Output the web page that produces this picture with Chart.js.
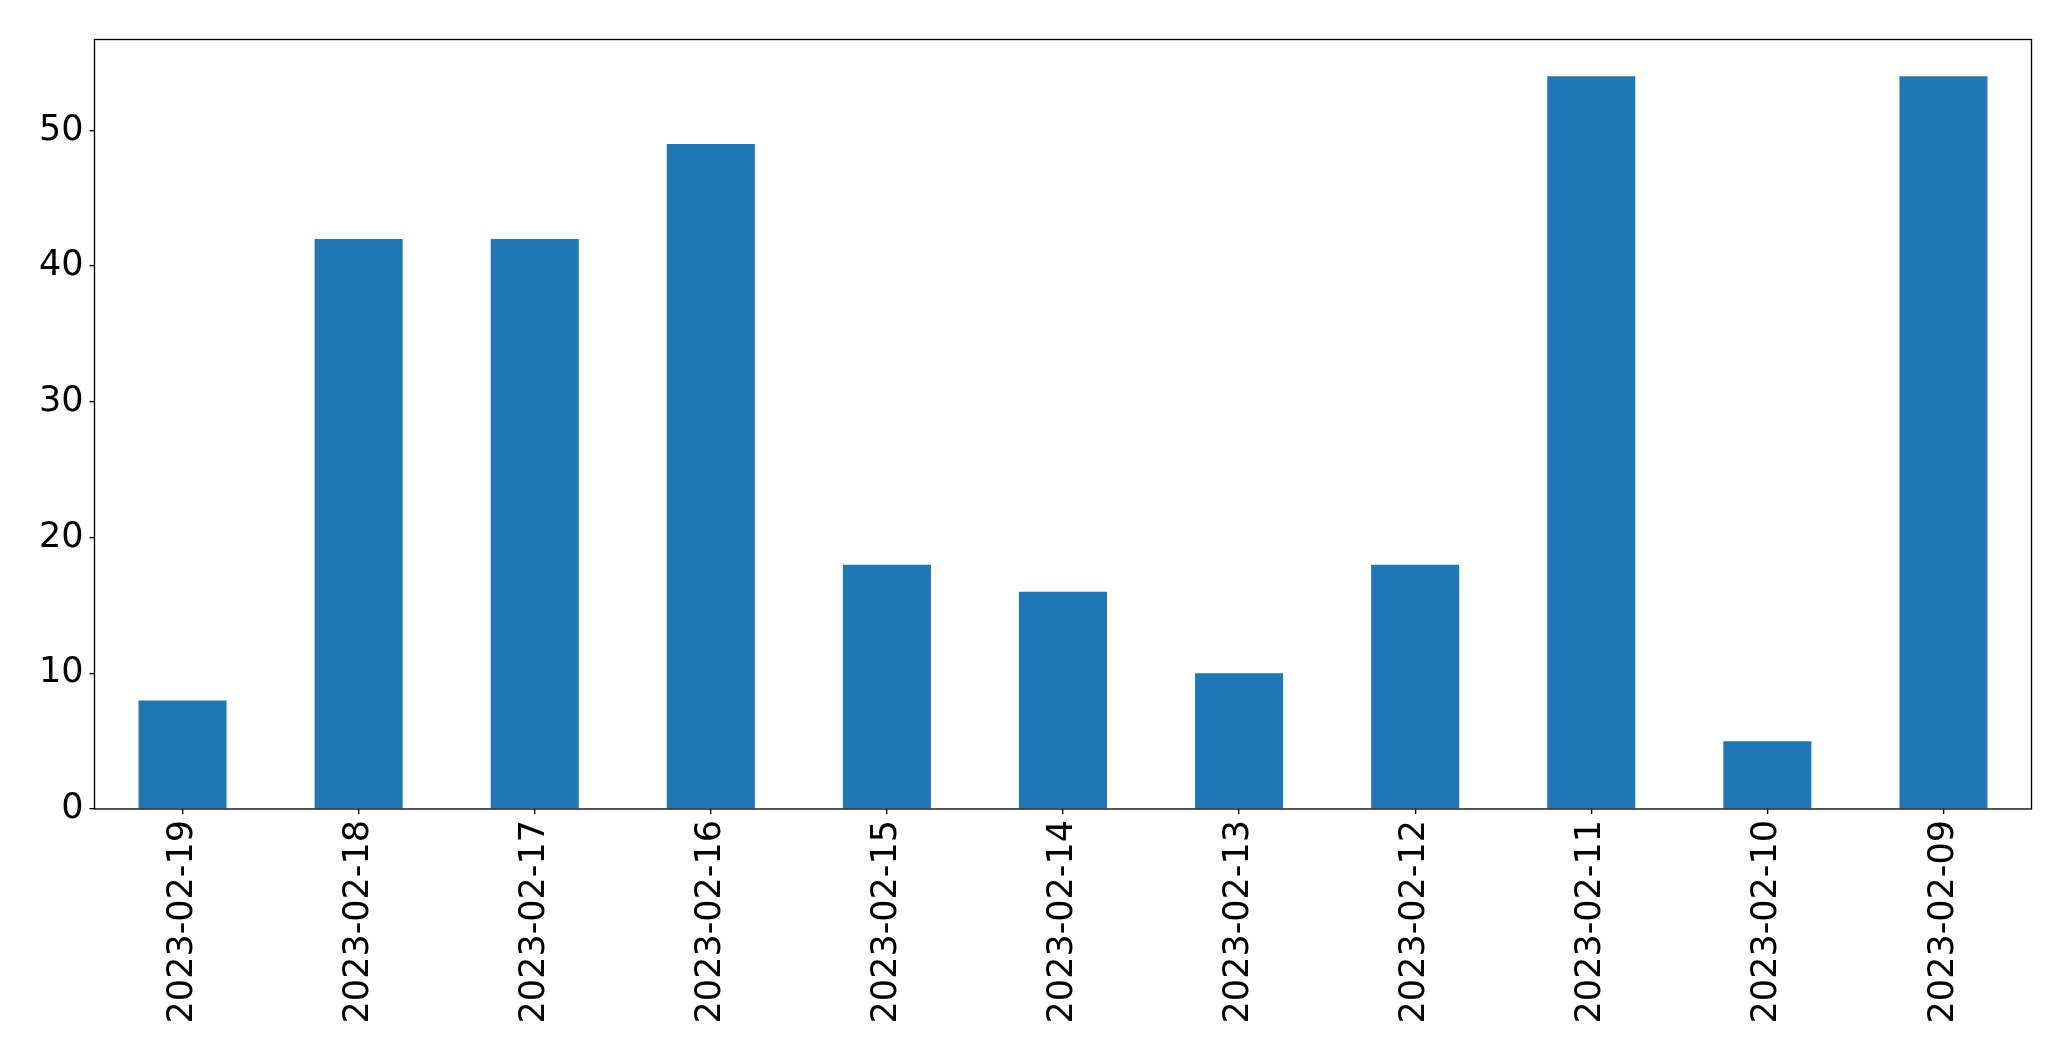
<!DOCTYPE html>
<html>
<head>
<meta charset="utf-8">
<script src="https://cdn.jsdelivr.net/npm/chart.js@4/dist/chart.umd.min.js"></script>
<style>
html,body{margin:0;padding:0;background:#fff;}
#wrap{width:2071px;height:1061px;position:relative;}
</style>
</head>
<body>
<div id="wrap"><canvas id="c" width="2071" height="1061"></canvas></div>
<script>
const categories = ["2023-02-19","2023-02-18","2023-02-17","2023-02-16","2023-02-15","2023-02-14","2023-02-13","2023-02-12","2023-02-11","2023-02-10","2023-02-09"];
const values = [8, 42, 42, 49, 18, 16, 10, 18, 54, 5, 54];
const yTicks = [0, 10, 20, 30, 40, 50];
const yMax = 56.7;

const frame = {
  id: 'frame',
  afterDraw(chart) {
    const a = chart.chartArea, ctx = chart.ctx;
    ctx.save();
    ctx.strokeStyle = '#000';
    ctx.lineWidth = 1.33;
    ctx.strokeRect(a.left, a.top, a.right - a.left, a.bottom - a.top);
    ctx.restore();
  }
};

const font = {family: 'DejaVu Sans', size: 35};

new Chart(document.getElementById('c'), {
  type: 'bar',
  data: {
    labels: categories,
    datasets: [{
      data: values,
      backgroundColor: '#1f77b4',
      borderWidth: 0,
      barPercentage: 0.5,
      categoryPercentage: 1.0
    }]
  },
  options: {
    responsive: false,
    animation: false,
    devicePixelRatio: 1,
    layout: {padding: {top: 39.5, right: 39.5, left: 0, bottom: 0}},
    plugins: {legend: {display: false}, tooltip: {enabled: false}},
    scales: {
      x: {
        offset: true,
        grid: {offset: false, drawOnChartArea: false, tickLength: 5, color: '#000', lineWidth: 1.33},
        border: {display: false},
        ticks: {
          color: '#000', font: font, autoSkip: false,
          maxRotation: 90, minRotation: 90, padding: 6
        },
        afterFit(s) { s.height = 252; }
      },
      y: {
        min: 0, max: yMax,
        afterBuildTicks(s) { s.ticks = yTicks.map(v => ({value: v})); },
        grid: {drawOnChartArea: false, tickLength: 5, color: '#000', lineWidth: 1.33},
        border: {display: false},
        ticks: {color: '#000', font: font, padding: 6},
        afterFit(s) { s.width = 94.5; }
      }
    }
  },
  plugins: [frame]
});
</script>
</body>
</html>
